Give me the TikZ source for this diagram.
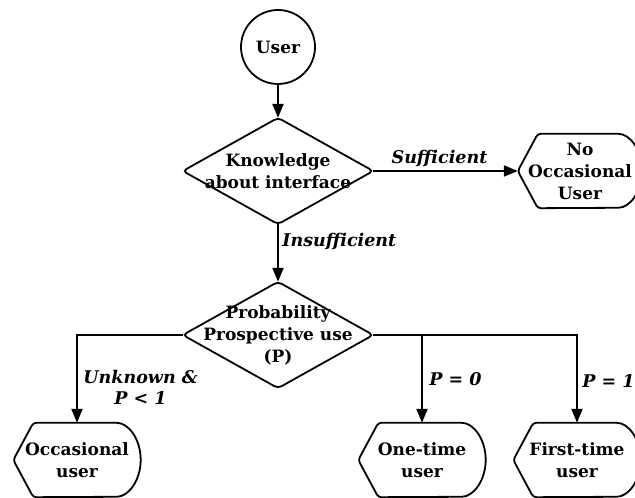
\documentclass[tikz,border=0pt]{standalone}
\usepackage{fontspec}
\setmainfont{DejaVu Serif}
\usetikzlibrary{calc, positioning}
\usetikzlibrary{arrows.meta}
\def\notchwidth{20pt}
\tikzset{
    border/.style = {
        draw, line width=1.8pt
    },
    decbox/.style = {
        rectangle, minimum width=190pt, minimum height=106pt, inner sep=0pt, align=center
    },
    dispbox/.style = {
        rectangle, minimum height=74pt, inner sep=0pt, align=center
    },
    lbl/.style = {
        font=\fontsize{17.5}{21}\selectfont\bfseries\itshape
    },
    pics/Decision/.style = {
        code = {
            \node [decbox](-box){#1};
            \draw[border, rounded corners=4pt] (-box.west) -- (-box.north) -- (-box.east) -- (-box.south) -- cycle;
    }},
    pics/Display/.style n args = {2}{
        code = {
            \node [dispbox, minimum width=#1](-box){#2};
            \draw[border, rounded corners=3pt] (-box.west) -- ([xshift=\notchwidth] -box.north west) -- ([xshift=-27pt] -box.north east)
                arc[start angle=90, end angle=-90, x radius=27pt, y radius=37pt] -- ([xshift=\notchwidth] -box.south west) -- cycle;
    }}
}

\begin{document}
\begin{tikzpicture}[x=1pt, y=1pt, every node/.style={font=\fontsize{17}{22}\selectfont\bfseries}]
        \useasboundingbox (0,0) rectangle (635,498);
        % Place the blocks
        \node[border, circle, minimum size=74pt, inner sep=0pt] (user) at (278,451) {User};
        \draw(278,327) pic (know) {Decision={Knowledge\\about interface}};
        \draw(580,327) pic (noocc) {Display={124pt}{No\\Occasional\\User}};
        \draw(278,163) pic (prob) {Decision={Probability\\Prospective use\\(P)}};
        \draw(77,38) pic (occ) {Display={127pt}{Occasional\\user}};
        \draw(422,38) pic (one) {Display={127pt}{One-time\\user}};
        \draw(577,38) pic (first) {Display={127pt}{First-time\\user}};

        \begin{scope}[line width=2.2pt, ->, >={Triangle[width=11pt,length=14pt]}]
            \draw (user) -- (know-box.north);
            \draw (know-box.east) -- node[lbl, midway, above, xshift=-6pt]{Sufficient} (noocc-box.west);
            \draw (know-box.south) -- node[lbl, pos=0.3, right]{Insufficient} (prob-box.north);
            \draw (prob-box.west) -| node[lbl, pos=0.8, right=2pt, align=center]{Unknown \&\\P < 1} (occ-box.north);
            \draw (prob-box.east) -| node[lbl, pos=0.76, right=1pt]{P = 1} (first-box.north);
            \draw (one-box.north |- prob-box.east) -- node[lbl, pos=0.5, right=3pt]{P = 0} (one-box.north);
        \end{scope}
    \end{tikzpicture}
\end{document}
